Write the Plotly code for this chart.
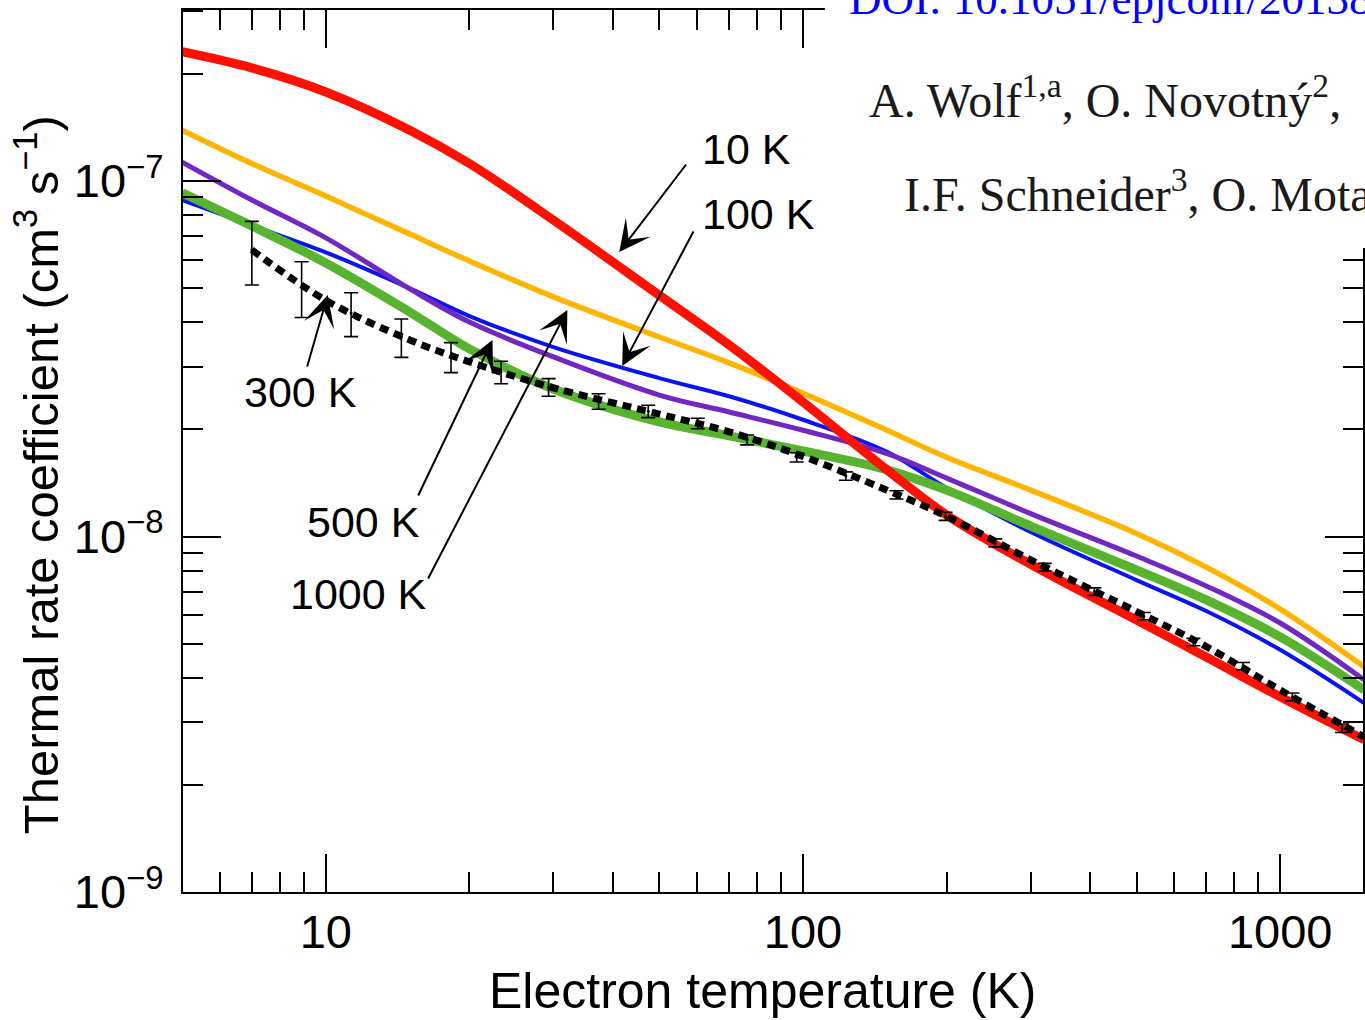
import plotly.graph_objects as go

# ---------------- data ----------------
temps = [5, 7, 10, 15, 20, 30, 50, 70, 100, 150, 200, 300, 500, 700, 1000, 1500]

rate_10K = [2.31e-7, 2.08e-7, 1.78e-7, 1.39e-7, 1.12e-7, 7.76e-8, 4.77e-8, 3.46e-8,
            2.39e-8, 1.54e-8, 1.15e-8, 8.35e-9, 5.82e-9, 4.58e-9, 3.54e-9, 2.68e-9]
rate_yellow = [1.39e-7, 1.12e-7, 9.07e-8, 7.09e-8, 5.96e-8, 4.72e-8, 3.64e-8, 3.08e-8,
               2.53e-8, 1.99e-8, 1.67e-8, 1.35e-8, 1.02e-8, 8.20e-9, 6.25e-9, 4.30e-9]
rate_purple = [1.13e-7, 8.84e-8, 6.92e-8, 4.97e-8, 4.01e-8, 3.20e-8, 2.50e-8, 2.24e-8,
               1.99e-8, 1.71e-8, 1.46e-8, 1.16e-8, 8.81e-9, 7.26e-9, 5.71e-9, 3.95e-9]
rate_blue = [8.84e-8, 7.50e-8, 6.30e-8, 4.99e-8, 4.17e-8, 3.41e-8, 2.79e-8, 2.48e-8,
             2.13e-8, 1.73e-8, 1.37e-8, 1.03e-8, 7.54e-9, 6.17e-9, 4.80e-9, 3.40e-9]
rate_green = [9.26e-8, 7.47e-8, 5.88e-8, 4.28e-8, 3.37e-8, 2.60e-8, 2.10e-8, 1.92e-8,
              1.74e-8, 1.54e-8, 1.35e-8, 1.07e-8, 8.05e-9, 6.63e-9, 5.22e-9, 3.70e-9]

fit_temps = [7, 10, 15, 20, 30, 50, 70, 100, 150, 200, 300, 500, 700, 1000, 1500]
fit_rate = [6.40e-8, 4.62e-8, 3.57e-8, 3.10e-8, 2.62e-8, 2.21e-8, 1.97e-8, 1.68e-8,
            1.35e-8, 1.14e-8, 8.60e-9, 6.15e-9, 4.90e-9, 3.70e-9, 2.73e-9]

meas_temps = [7.0, 8.9, 11.3, 14.4, 18.3, 23.3, 29.3, 37.3, 47.4, 60.2, 76.4, 97, 123,
              157, 199, 253, 321, 408, 518, 658, 836, 1061, 1348]
meas_rate = [6.40e-8, 5.03e-8, 4.25e-8, 3.64e-8, 3.20e-8, 2.90e-8, 2.63e-8, 2.40e-8,
             2.25e-8, 2.08e-8, 1.87e-8, 1.67e-8, 1.48e-8, 1.31e-8, 1.14e-8, 9.6e-9,
             8.2e-9, 7.0e-9, 5.97e-9, 5.05e-9, 4.32e-9, 3.54e-9, 2.89e-9]
meas_err = [1.3e-8, 0.9e-8, 0.6e-8, 0.45e-8, 0.31e-8, 0.21e-8, 0.15e-8, 0.12e-8,
            0.09e-8, 0.07e-8, 0.06e-8, 0.05e-8, 0.04e-8, 0.035e-8, 0.03e-8, 0.025e-8,
            0.02e-8, 0.017e-8, 0.014e-8, 0.012e-8, 0.010e-8, 0.009e-8, 0.008e-8]

x_tickvals = [10, 100, 1000]
x_ticktext = ["10", "100", "1000"]
y_tickvals = [1e-9, 1e-8, 1e-7]
y_ticktext = ["10<sup>\u22129</sup>", "10<sup>\u22128</sup>", "10<sup>\u22127</sup>"]
x_minor = [6, 7, 8, 9, 20, 30, 40, 50, 60, 70, 80, 90, 200, 300, 400, 500, 600, 700, 800, 900]
y_minor = [m * d for d in (1e-9, 1e-8, 1e-7) for m in range(2, 10)]

curve_labels = ["10 K", "100 K", "300 K", "500 K", "1000 K"]

# ---------------- geometry ----------------
W, H = 1365, 1020
ML, MR, MT, MB = 183, 0, 10, 128
PW, PH = W - ML - MR, H - MT - MB
X_RANGE = [0.7008, 3.1736]
Y_RANGE = [-9.0, -6.519]


def ax_x(px):
    return X_RANGE[0] + (px - ML) / PW * (X_RANGE[1] - X_RANGE[0])


def ax_y(py):
    return Y_RANGE[1] - (py - MT) / PH * (Y_RANGE[1] - Y_RANGE[0])


def pap_x(px):
    return (px - ML) / PW


def pap_y(py):
    return (H - MB - py) / PH


SANS = "Liberation Sans, Arial, Helvetica, sans-serif"
SERIF = "Liberation Serif, Times New Roman, serif"
SM = 1.0

fig = go.Figure()

fig.add_trace(go.Scatter(x=temps, y=rate_blue, mode="lines", line=dict(color="#0a14f0", width=4, shape="spline", smoothing=SM)))
fig.add_trace(go.Scatter(x=temps, y=rate_purple, mode="lines", line=dict(color="#7028c0", width=5, shape="spline", smoothing=SM)))
fig.add_trace(go.Scatter(x=temps, y=rate_green, mode="lines", line=dict(color="#58b430", width=9, shape="spline", smoothing=SM)))
fig.add_trace(go.Scatter(x=temps, y=rate_yellow, mode="lines", line=dict(color="#ffb400", width=5.5, shape="spline", smoothing=SM)))
fig.add_trace(go.Scatter(x=temps, y=rate_10K, mode="lines", line=dict(color="#ff1000", width=9, shape="spline", smoothing=SM)))
fig.add_trace(go.Scatter(x=meas_temps, y=meas_rate, mode="markers",
                         marker=dict(size=3, color="black"),
                         error_y=dict(type="data", array=meas_err, color="black", thickness=1.6, width=7)))
fig.add_trace(go.Scatter(x=fit_temps, y=fit_rate, mode="lines",
                         line=dict(color="black", width=7, dash="9px,6px", shape="spline", smoothing=SM)))

axis_common = dict(
    type="log", showgrid=False, zeroline=False, showline=True, linecolor="black", linewidth=2,
    mirror="ticks", ticks="inside", ticklen=38, tickwidth=2, tickcolor="black",
    tickfont=dict(family=SANS, size=47, color="black"),
)

fig.update_xaxes(range=X_RANGE, tickvals=x_tickvals, ticktext=x_ticktext, ticklabelstandoff=-2,
                 minor=dict(tickvals=x_minor, ticks="inside", ticklen=20, tickwidth=2, tickcolor="black", showgrid=False),
                 **axis_common)
fig.update_yaxes(range=Y_RANGE, tickvals=y_tickvals, ticktext=y_ticktext, ticklabelstandoff=8,
                 minor=dict(tickvals=y_minor, ticks="inside", ticklen=20, tickwidth=2, tickcolor="black", showgrid=False),
                 **axis_common)

annotations = []
# axis titles
annotations.append(dict(text="Electron temperature (K)", xref="paper", yref="paper",
                        x=pap_x(763), y=pap_y(991), xanchor="center", yanchor="middle",
                        showarrow=False, font=dict(family=SANS, size=50, color="black")))
annotations.append(dict(text="Thermal rate coefficient (cm<sup>3</sup> s<sup>\u22121</sup>)", xref="paper", yref="paper",
                        x=pap_x(37), y=pap_y(475), xanchor="center", yanchor="middle", textangle=-90,
                        showarrow=False, font=dict(family=SANS, size=49, color="black")))

# curve labels
label_pos = [(747, 149), (759, 214), (301, 392), (364, 522), (359, 594)]
for txt, (px, py) in zip(curve_labels, label_pos):
    annotations.append(dict(text=txt, xref="paper", yref="paper", x=pap_x(px), y=pap_y(py),
                            xanchor="center", yanchor="middle", showarrow=False,
                            font=dict(family=SANS, size=43, color="black")))

# arrows (tip, tail) in pixels
arrows = [((620, 252), (688, 163)),
          ((623, 366), (695, 230)),
          ((328, 295), (307, 368)),
          ((493, 340), (418, 497)),
          ((568, 310), (428, 580))]
for (tx, ty), (sx, sy) in arrows:
    annotations.append(dict(text="", x=ax_x(tx), y=ax_y(ty), xref="x", yref="y",
                            ax=sx - tx, ay=sy - ty, axref="pixel", ayref="pixel",
                            showarrow=True, arrowhead=3, arrowsize=2.6, arrowwidth=2,
                            arrowcolor="black", standoff=0, startstandoff=0))

# overlapping page text (top right)
annotations.append(dict(text="DOI: 10.1051/epjconf/201384", xref="paper", yref="paper",
                        x=pap_x(848), y=pap_y(-1), xanchor="left", yanchor="middle", showarrow=False,
                        font=dict(family=SERIF, size=45, color="#0000ff")))
annotations.append(dict(text="A. Wolf<sup>1,a</sup>, O. Novotn\u00fd<sup>2</sup>,", xref="paper", yref="paper",
                        x=pap_x(868), y=pap_y(97), xanchor="left", yanchor="middle", showarrow=False,
                        font=dict(family=SERIF, size=48, color="#1a1a1a")))
annotations.append(dict(text="I.F. Schneider<sup>3</sup>, O. Mota", xref="paper", yref="paper",
                        x=pap_x(903), y=pap_y(191), xanchor="left", yanchor="middle", showarrow=False,
                        font=dict(family=SERIF, size=48, color="#1a1a1a")))

shapes = [dict(type="rect", xref="paper", yref="paper", x0=pap_x(826), x1=1.02,
               y0=pap_y(248), y1=1.05, fillcolor="white", line=dict(width=0), layer="above")]

fig.update_layout(width=W, height=H, margin=dict(l=ML, r=MR, t=MT, b=MB),
                  paper_bgcolor="white", plot_bgcolor="white", showlegend=False,
                  annotations=annotations, shapes=shapes)

fig.write_html("out.html")
